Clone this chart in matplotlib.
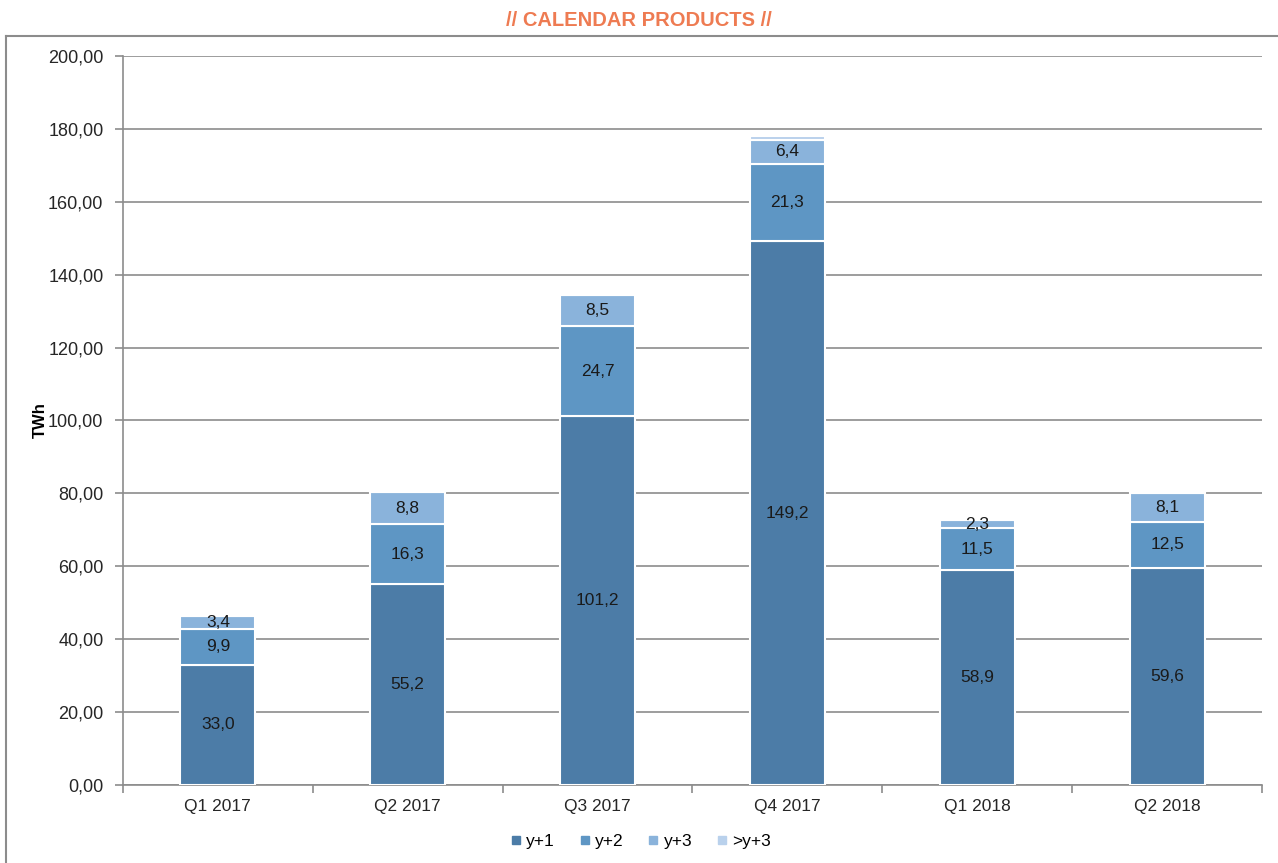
import matplotlib
matplotlib.use('Agg')
import matplotlib.pyplot as plt
from matplotlib.lines import Line2D
from matplotlib.ticker import FuncFormatter
import numpy as np

plt.rcParams['font.family'] = ['Liberation Sans', 'DejaVu Sans']

quarters = ['Q1 2017', 'Q2 2017', 'Q3 2017', 'Q4 2017', 'Q1 2018', 'Q2 2018']
y1 = [33.0, 55.2, 101.2, 149.2, 58.9, 59.6]
y2 = [9.9, 16.3, 24.7, 21.3, 11.5, 12.5]
y3 = [3.4, 8.8, 8.5, 6.4, 2.3, 8.1]
y4 = [0.0, 0.0, 0.0, 1.2, 0.0, 0.0]
series_names = ['y+1', 'y+2', 'y+3', '>y+3']
colors = ['#4c7ca7', '#5e96c4', '#8ab3db', '#b9d1ec']

fig = plt.figure(figsize=(12.78, 8.63), dpi=100)
ax = fig.add_axes([0.0962, 0.0904, 0.8913, 0.8447])

x = np.arange(len(quarters))
bottom = np.zeros(len(quarters))
series = [y1, y2, y3, y4]
for vals, name, c in zip(series, series_names, colors):
    vals = np.array(vals)
    ax.bar(x, vals, 0.395, bottom=bottom, color=c, edgecolor='white',
           linewidth=1.5, label=name, zorder=3)
    if name != '>y+3':
        for xi, b, v in zip(x, bottom, vals):
            ax.text(xi, b + v / 2, f'{v:.1f}'.replace('.', ','), ha='center',
                    va='center', fontsize=12.5, color='#1a1a1a', zorder=4)
    bottom += vals

ax.set_xlim(-0.5, len(quarters) - 0.5)
ax.set_ylim(0, 200)
ax.set_yticks(np.arange(0, 201, 20))
ax.yaxis.set_major_formatter(FuncFormatter(lambda v, p: f'{v:.2f}'.replace('.', ',')))
ax.yaxis.grid(True, color='#8c8c8c', linewidth=1.2, zorder=0)
ax.set_xticks(x)
ax.set_xticklabels(quarters)
ax.set_xticks(np.arange(-0.5, len(quarters)), minor=True)
ax.tick_params(axis='x', which='major', length=0, pad=10, labelsize=12.5, labelcolor='#262626')
ax.tick_params(axis='x', which='minor', length=6, color='#8c8c8c', width=1.2)
ax.tick_params(axis='y', length=6, color='#8c8c8c', width=1.2, labelsize=13,
               labelcolor='#262626', pad=8)
for s in ['top', 'right']:
    ax.spines[s].set_visible(False)
for s in ['left', 'bottom']:
    ax.spines[s].set_color('#8c8c8c')
    ax.spines[s].set_linewidth(1.2)
ax.set_ylabel('TWh', fontsize=12, fontweight='bold')
ax.yaxis.set_label_coords(-0.066, 0.5)

handles = [Line2D([], [], marker='s', linestyle='none', markersize=6,
                  color=c) for c in colors]
fig.legend(handles, series_names, loc='center', bbox_to_anchor=(0.5, 0.025),
           ncol=4, frameon=False, fontsize=12.5, handletextpad=0.1,
           columnspacing=1.2, handlelength=1.0)

fig.text(0.5, 0.976, '// CALENDAR PRODUCTS //', ha='center', va='center',
         fontsize=14.5, fontweight='bold', color='#ee7b52')

# outer frame lines
fig.add_artist(Line2D([6 / 1278, 1.0], [1 - 36 / 863, 1 - 36 / 863],
                      color='#8c8c8c', linewidth=1.5))
fig.add_artist(Line2D([6 / 1278, 6 / 1278], [0, 1 - 36 / 863],
                      color='#8c8c8c', linewidth=1.5))

fig.savefig('out.png', dpi=100)
